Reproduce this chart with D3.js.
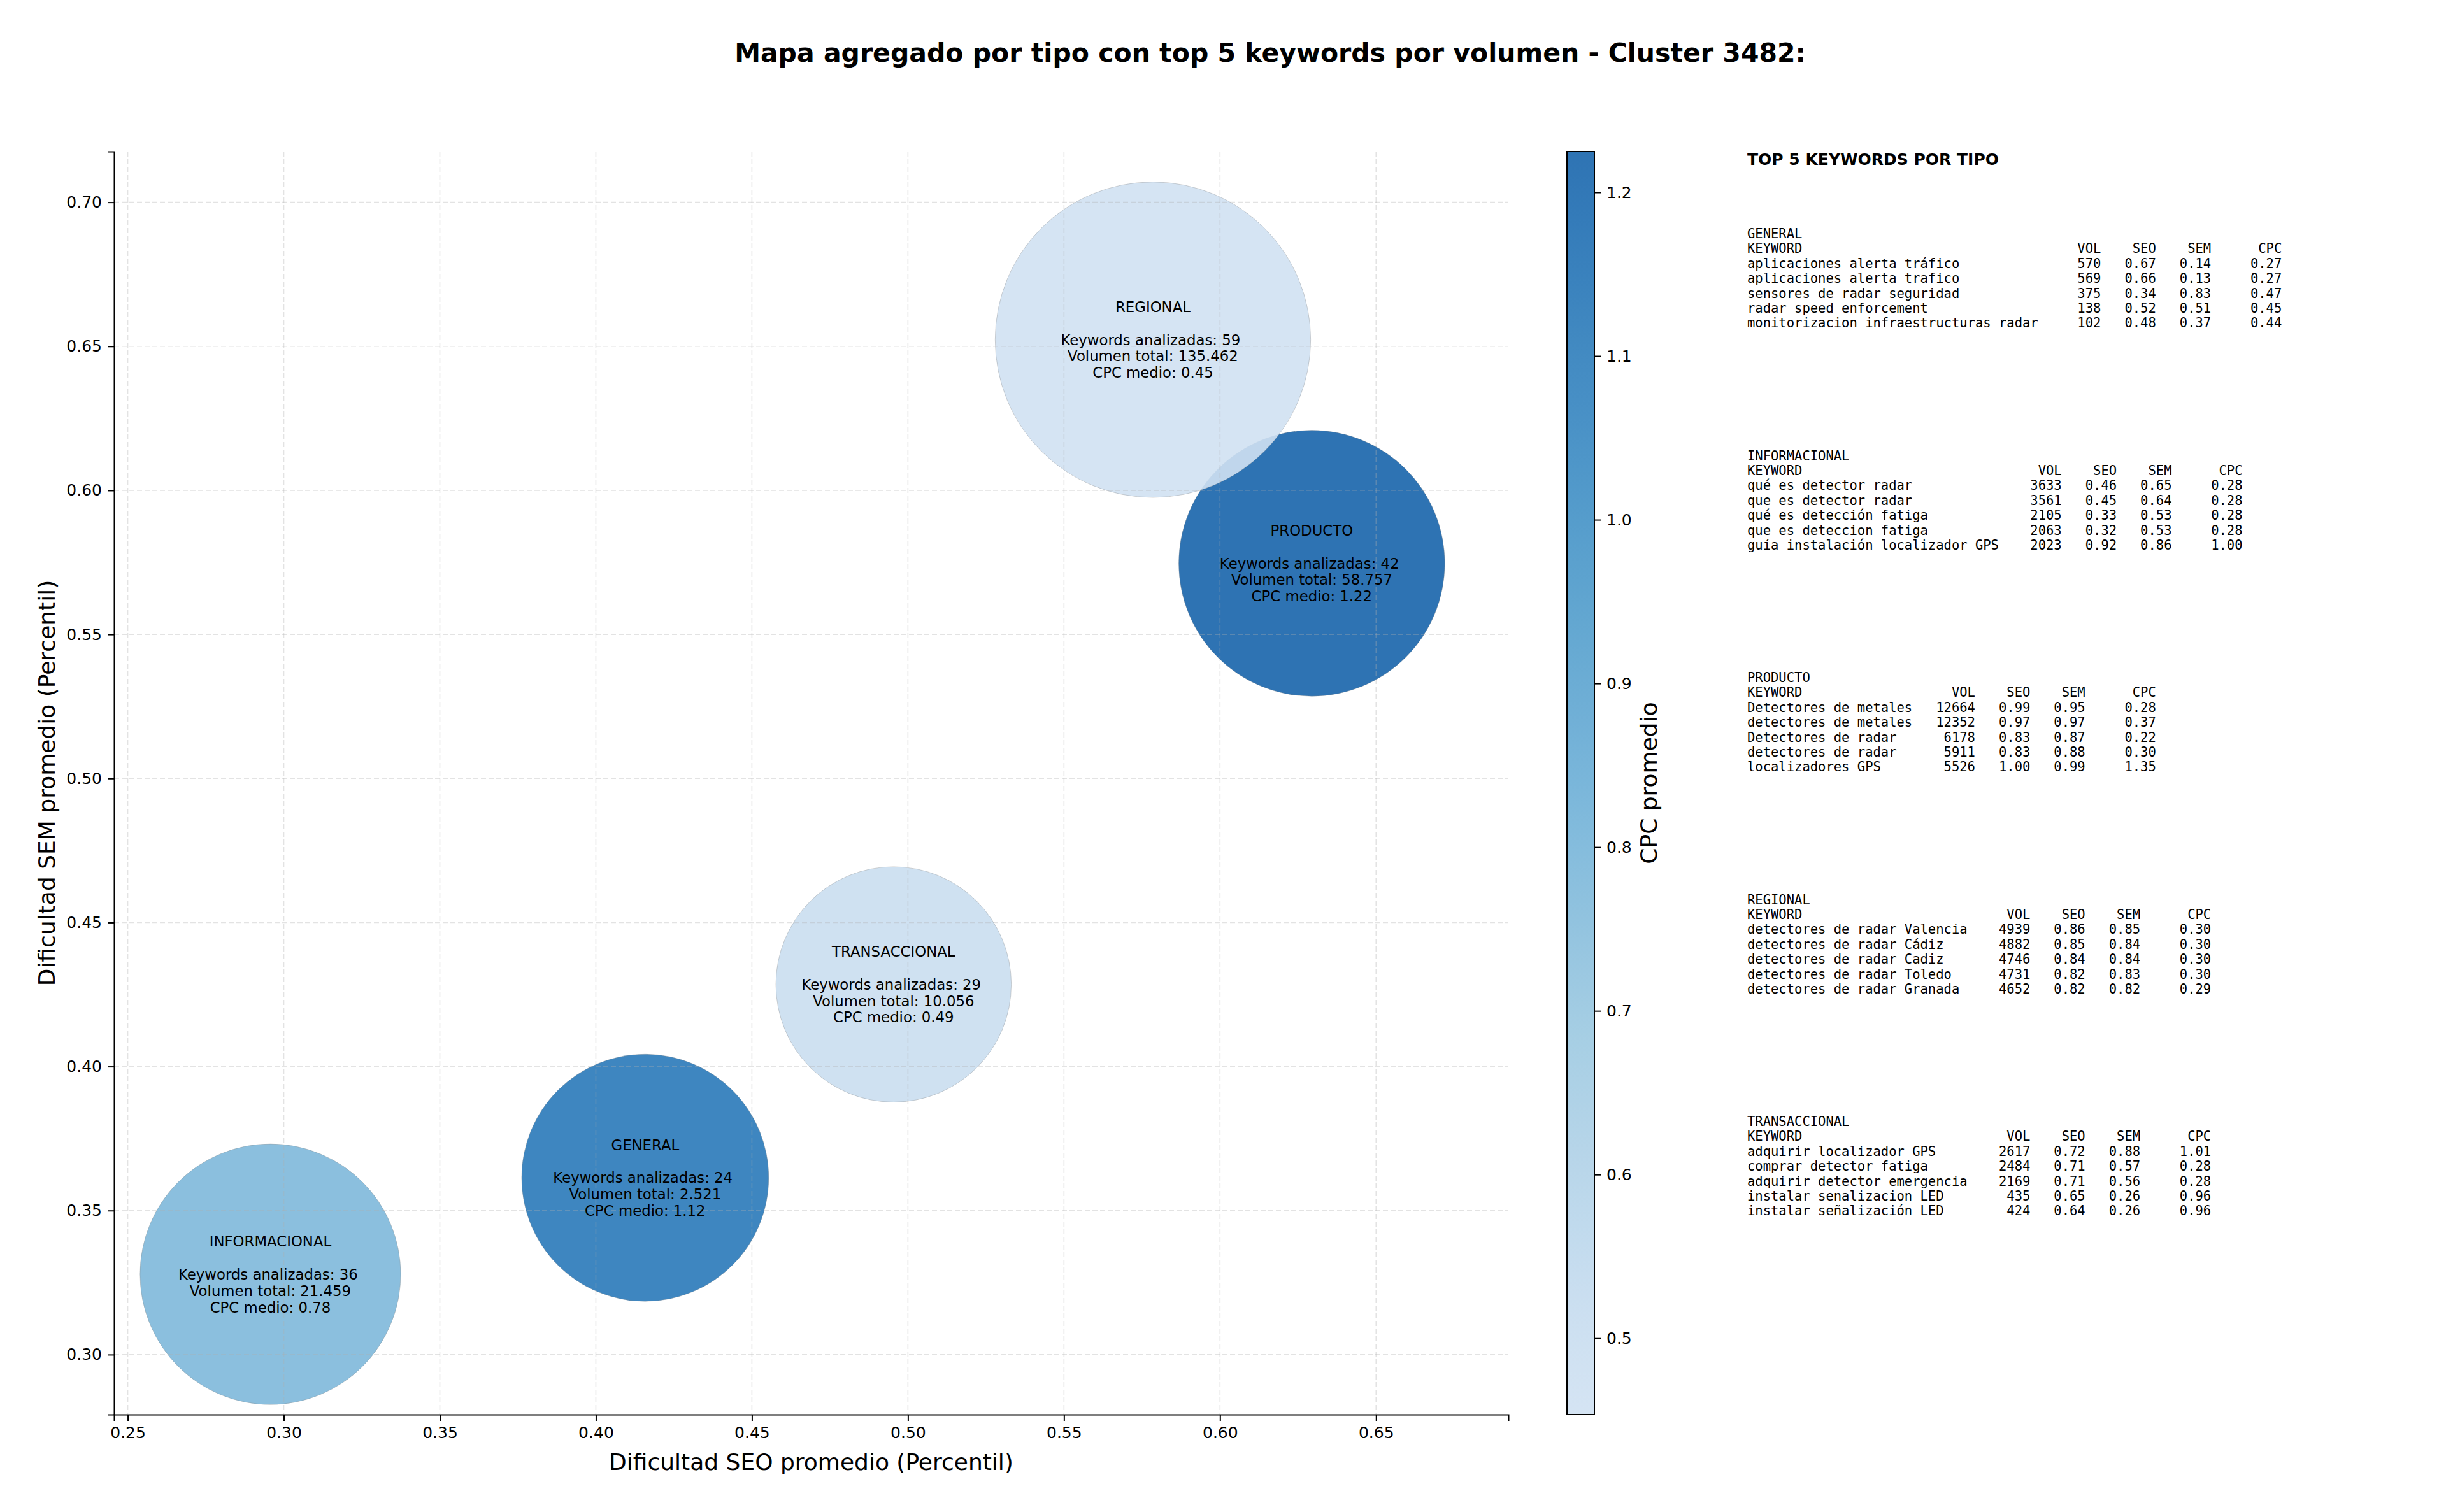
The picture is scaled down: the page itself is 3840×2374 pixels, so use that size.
<!DOCTYPE html>
<html>
<head>
<meta charset="utf-8">
<script src="https://cdn.jsdelivr.net/npm/d3@7"></script>
<style>
  body { margin: 0; background: #fff; }
  svg text { font-family: "DejaVu Sans", sans-serif; fill: #000; }
  .mono { font-family: "DejaVu Sans Mono", monospace; white-space: pre; }
  .pre { white-space: pre; }
</style>
</head>
<body>
<svg id="chart"></svg>
<script>
// aggregated values per keyword type
const tipos = ["GENERAL", "INFORMACIONAL", "PRODUCTO", "REGIONAL", "TRANSACCIONAL"];
const seoMedio = [0.4158, 0.2957, 0.6294, 0.5785, 0.4954];
const semMedio = [0.3614, 0.3279, 0.5747, 0.6523, 0.4285];
const cpcMedio = [1.12, 0.78, 1.2249, 0.4534, 0.49];
const nKeywords = [24, 36, 42, 59, 29];
const volumenTotal = [2521, 21459, 58757, 135462, 10056];
const bubbleSize = [19500, 21700, 22600, 31800, 17700]; // scatter size (points^2)

const xTicks = [0.25, 0.30, 0.35, 0.40, 0.45, 0.50, 0.55, 0.60, 0.65];
const yTicks = [0.30, 0.35, 0.40, 0.45, 0.50, 0.55, 0.60, 0.65, 0.70];
const cTicks = [0.5, 0.6, 0.7, 0.8, 0.9, 1.0, 1.1, 1.2];

// top 5 keywords per type: keyword, vol, seo, sem, cpc
const kwGeneral = [
  ["aplicaciones alerta tráfico", 570, 0.67, 0.14, 0.27],
  ["aplicaciones alerta trafico", 569, 0.66, 0.13, 0.27],
  ["sensores de radar seguridad", 375, 0.34, 0.83, 0.47],
  ["radar speed enforcement", 138, 0.52, 0.51, 0.45],
  ["monitorizacion infraestructuras radar", 102, 0.48, 0.37, 0.44]
];
const kwInformacional = [
  ["qué es detector radar", 3633, 0.46, 0.65, 0.28],
  ["que es detector radar", 3561, 0.45, 0.64, 0.28],
  ["qué es detección fatiga", 2105, 0.33, 0.53, 0.28],
  ["que es deteccion fatiga", 2063, 0.32, 0.53, 0.28],
  ["guía instalación localizador GPS", 2023, 0.92, 0.86, 1.00]
];
const kwProducto = [
  ["Detectores de metales", 12664, 0.99, 0.95, 0.28],
  ["detectores de metales", 12352, 0.97, 0.97, 0.37],
  ["Detectores de radar", 6178, 0.83, 0.87, 0.22],
  ["detectores de radar", 5911, 0.83, 0.88, 0.30],
  ["localizadores GPS", 5526, 1.00, 0.99, 1.35]
];
const kwRegional = [
  ["detectores de radar Valencia", 4939, 0.86, 0.85, 0.30],
  ["detectores de radar Cádiz", 4882, 0.85, 0.84, 0.30],
  ["detectores de radar Cadiz", 4746, 0.84, 0.84, 0.30],
  ["detectores de radar Toledo", 4731, 0.82, 0.83, 0.30],
  ["detectores de radar Granada", 4652, 0.82, 0.82, 0.29]
];
const kwTransaccional = [
  ["adquirir localizador GPS", 2617, 0.72, 0.88, 1.01],
  ["comprar detector fatiga", 2484, 0.71, 0.57, 0.28],
  ["adquirir detector emergencia", 2169, 0.71, 0.56, 0.28],
  ["instalar senalizacion LED", 435, 0.65, 0.26, 0.96],
  ["instalar señalización LED", 424, 0.64, 0.26, 0.96]
];
const kwTables = [kwGeneral, kwInformacional, kwProducto, kwRegional, kwTransaccional];

const W = 3840, H = 2374;
const svg = d3.select("#chart").attr("width", W).attr("height", H);
svg.append("rect").attr("width", W).attr("height", H).attr("fill", "#fff");

const plot = { left: 179, right: 2368, top: 238, bottom: 2221 };

const x = d3.scaleLinear().domain([0.2456, 0.6924]).range([plot.left, plot.right]);
const y = d3.scaleLinear().domain([0.2792, 0.7176]).range([plot.bottom, plot.top]);
const r = d3.scaleSqrt().domain([0, d3.max(bubbleSize)])
  .range([0, Math.sqrt(d3.max(bubbleSize)) / 2 * 200 / 72]);

// matplotlib Blues, using the 0.2 - 0.8 part
const bluesStops = ["#f7fbff", "#deebf7", "#c6dbef", "#9ecae1", "#6baed6", "#4292c6", "#2171b5", "#08519c", "#08306b"];
const blues = d3.scaleLinear().domain(d3.range(9).map(i => i / 8)).range(bluesStops).interpolate(d3.interpolateRgb);
const cExtent = d3.extent(cpcMedio);
const color = v => blues(0.2 + 0.6 * (v - cExtent[0]) / (cExtent[1] - cExtent[0]));
const ALPHA = 0.9;

const fmtVol = d3.formatLocale({ decimal: ",", thousands: ".", grouping: [3], currency: ["", ""] }).format(",d");

// title
svg.append("text")
  .attr("x", 1994).attr("y", 97)
  .attr("text-anchor", "middle")
  .style("font-size", "41px").style("font-weight", "bold")
  .text("Mapa agregado por tipo con top 5 keywords por volumen - Cluster 3482:");

const data = tipos.map((t, i) => ({
  tipo: t, seo: seoMedio[i], sem: semMedio[i], cpc: cpcMedio[i],
  n: nKeywords[i], vol: volumenTotal[i], size: bubbleSize[i]
}));

// bubbles
svg.append("g")
  .selectAll("circle")
  .data(data)
  .join("circle")
  .attr("cx", d => x(d.seo))
  .attr("cy", d => y(d.sem))
  .attr("r", d => r(d.size))
  .attr("fill", d => color(d.cpc))
  .attr("fill-opacity", ALPHA)
  .attr("stroke", "#888")
  .attr("stroke-opacity", 0.35)
  .attr("stroke-width", 1);

// grid (drawn above the bubbles, as in the original)
const grid = svg.append("g").attr("stroke", "#b0b0b0").attr("stroke-opacity", 0.35)
  .attr("stroke-width", 1.6).attr("stroke-dasharray", "8,4");
grid.selectAll(".gx").data(xTicks).join("line")
  .attr("x1", d => x(d)).attr("x2", d => x(d))
  .attr("y1", plot.top).attr("y2", plot.bottom);
grid.selectAll(".gy").data(yTicks).join("line")
  .attr("y1", d => y(d)).attr("y2", d => y(d))
  .attr("x1", plot.left).attr("x2", plot.right);

// bubble labels
const lineH = 25.8;
const labels = svg.append("g").style("font-size", "22.8px").attr("text-anchor", "middle");
data.forEach(d => {
  const lines = [d.tipo, "", `Keywords analizadas: ${d.n} `, `Volumen total: ${fmtVol(d.vol)}`, `CPC medio: ${d.cpc.toFixed(2)}`];
  lines.forEach((s, i) => {
    if (!s) return;
    labels.append("text").attr("class", "pre")
      .attr("x", x(d.seo))
      .attr("y", y(d.sem) + (i - 2) * lineH)
      .attr("dy", "0.36em")
      .text(s);
  });
});

// axes
function styleAxis(g) {
  g.selectAll("text").style("font-size", "25px").style("font-family", "DejaVu Sans").attr("fill", "#000");
  g.selectAll("line").attr("stroke", "#000").attr("stroke-width", 2);
  g.select(".domain").attr("stroke", "#000").attr("stroke-width", 2);
}

svg.append("g")
  .attr("transform", `translate(0,${plot.bottom})`)
  .call(d3.axisBottom(x).tickValues(xTicks).tickFormat(d3.format(".2f")).tickSizeOuter(0).tickSize(10).tickPadding(9))
  .call(styleAxis);

svg.append("g")
  .attr("transform", `translate(${plot.left},0)`)
  .call(d3.axisLeft(y).tickValues(yTicks).tickFormat(d3.format(".2f")).tickSizeOuter(0).tickSize(10).tickPadding(9))
  .call(styleAxis);

svg.append("text")
  .attr("x", (plot.left + plot.right) / 2).attr("y", 2295).attr("dy", "0.35em")
  .attr("text-anchor", "middle").style("font-size", "36px")
  .text("Dificultad SEO promedio (Percentil)");

svg.append("text")
  .attr("transform", `translate(73,${(plot.top + plot.bottom) / 2}) rotate(-90)`)
  .attr("dy", "0.35em")
  .attr("text-anchor", "middle").style("font-size", "36px")
  .text("Dificultad SEM promedio (Percentil)");

// colorbar
const cb = { left: 2460, right: 2503 };
const cScale = d3.scaleLinear().domain(cExtent).range([plot.bottom, plot.top]);
const grad = svg.append("defs").append("linearGradient")
  .attr("id", "cbgrad").attr("x1", 0).attr("x2", 0).attr("y1", 1).attr("y2", 0);
d3.range(0, 1.0001, 0.05).forEach(t => {
  grad.append("stop").attr("offset", t)
    .attr("stop-color", color(cExtent[0] + t * (cExtent[1] - cExtent[0])))
    .attr("stop-opacity", ALPHA);
});
svg.append("rect")
  .attr("x", cb.left).attr("y", plot.top)
  .attr("width", cb.right - cb.left).attr("height", plot.bottom - plot.top)
  .attr("fill", "url(#cbgrad)")
  .attr("stroke", "#000").attr("stroke-width", 2);

svg.append("g")
  .attr("transform", `translate(${cb.right},0)`)
  .call(d3.axisRight(cScale).tickValues(cTicks).tickFormat(d3.format(".1f")).tickSize(10).tickPadding(9))
  .call(styleAxis)
  .call(g => g.select(".domain").remove());

svg.append("text")
  .attr("transform", `translate(2588,${(plot.top + plot.bottom) / 2}) rotate(-90)`)
  .attr("dy", "0.35em")
  .attr("text-anchor", "middle").style("font-size", "36px")
  .text("CPC promedio");

// top keywords panel
const panelX = 2743;
svg.append("text")
  .attr("x", panelX).attr("y", 250).attr("dy", "0.36em")
  .style("font-size", "25px").style("font-weight", "bold")
  .text("TOP 5 KEYWORDS POR TIPO");

function panelLines(name, rows) {
  const w = d3.max(rows, row => row[0].length);
  const lines = [name,
    "KEYWORD".padEnd(w) + " " + "VOL".padStart(7) + " " + "SEO".padStart(6) + " " + "SEM".padStart(6) + " " + "CPC".padStart(8)];
  rows.forEach(row => {
    lines.push(row[0].padEnd(w) + " " + String(row[1]).padStart(7) + " " +
      row[2].toFixed(2).padStart(6) + " " + row[3].toFixed(2).padStart(6) + " " + row[4].toFixed(2).padStart(8));
  });
  return lines;
}

const blockY0 = 366.7, blockStep = 348.5, rowStep = 23.4;
const panel = svg.append("g").style("font-size", "20.5px");
tipos.forEach((t, b) => {
  panelLines(t, kwTables[b]).forEach((s, i) => {
    panel.append("text").attr("class", "mono")
      .attr("x", panelX)
      .attr("y", blockY0 + b * blockStep + i * rowStep)
      .attr("dy", "0.36em")
      .text(s);
  });
});
</script>
</body>
</html>
